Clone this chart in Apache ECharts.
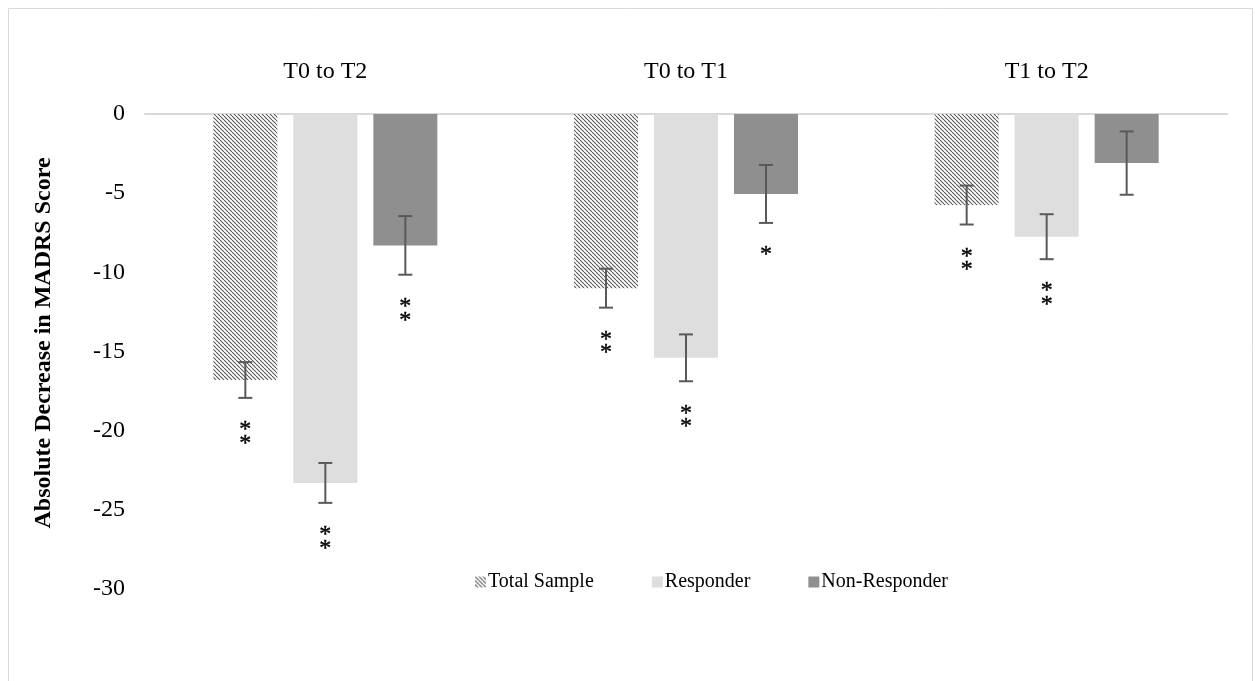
<!DOCTYPE html>
<html>
<head>
<meta charset="utf-8">
<script src="https://cdn.jsdelivr.net/npm/echarts@6/dist/echarts.min.js"></script>
<style>
  html, body { margin: 0; padding: 0; background: #ffffff; }
  #chart { width: 1255px; height: 681px; }
</style>
</head>
<body>
<div id="chart"></div>
<script>
// Time intervals compared
const categories = ['T0 to T2', 'T0 to T1', 'T1 to T2'];
const seriesNames = ['Total Sample', 'Responder', 'Non-Responder'];

// Mean change in MADRS score per interval
const totalSample = [-16.8, -11.0, -5.75];
const responder = [-23.3, -15.4, -7.75];
const nonResponder = [-8.3, -5.05, -3.1];

// Error bar half-widths
const totalSampleErr = [1.13, 1.23, 1.23];
const responderErr = [1.26, 1.48, 1.42];
const nonResponderErr = [1.85, 1.83, 2.0];

// Significance markers
const totalSampleSig = ['**', '**', '**'];
const responderSig = ['**', '**', '**'];
const nonResponderSig = ['**', '*', ''];

// Y axis ticks
const yMin = -30, yMax = 0, yStep = 5;
const yTitle = 'Absolute Decrease in MADRS Score';

const FONT = '"Liberation Serif", "Times New Roman", serif';
const BAR_W = 64, BAR_GAP = 16;

// Diagonal hatch fill for the total-sample bars
function makeHatch() {
  const c = document.createElement('canvas');
  c.width = 4; c.height = 4;
  const g = c.getContext('2d');
  g.fillStyle = '#ffffff';
  g.fillRect(0, 0, 4, 4);
  g.strokeStyle = '#5a5a5a';
  g.lineWidth = 1.1;
  [-4, 0, 4].forEach(function (d) {
    g.beginPath();
    g.moveTo(d, 0);
    g.lineTo(d + 4, 4);
    g.stroke();
  });
  return c;
}
const hatch = { image: makeHatch(), repeat: 'repeat' };
const fills = [hatch, '#dedede', '#8f8f8f'];

const values = [totalSample, responder, nonResponder];
const errs = [totalSampleErr, responderErr, nonResponderErr];
const sigs = [totalSampleSig, responderSig, nonResponderSig];

const barSeries = values.map(function (vals, i) {
  return {
    name: seriesNames[i],
    type: 'bar',
    data: vals,
    barWidth: BAR_W,
    barGap: (BAR_GAP / BAR_W * 100) + '%',
    itemStyle: { color: fills[i] },
    emphasis: { disabled: true },
    silent: true,
    z: 2
  };
});

const errSeries = values.map(function (vals, i) {
  const offset = (i - 1) * (BAR_W + BAR_GAP);
  return {
    type: 'custom',
    silent: true,
    z: 5,
    data: vals.map(function (v, k) { return [k, v, errs[i][k]]; }),
    renderItem: function (params, api) {
      const k = api.value(0), v = api.value(1), e = api.value(2);
      const sig = sigs[i][k];
      const x = api.coord([k, 0])[0] + offset;
      const yTop = api.coord([k, v + e])[1];
      const yBot = api.coord([k, v - e])[1];
      const stroke = { stroke: '#595959', lineWidth: 2 };
      const cap = 7;
      const children = [
        { type: 'line', shape: { x1: x, y1: yTop, x2: x, y2: yBot }, style: stroke },
        { type: 'line', shape: { x1: x - cap, y1: yTop, x2: x + cap, y2: yTop }, style: stroke },
        { type: 'line', shape: { x1: x - cap, y1: yBot, x2: x + cap, y2: yBot }, style: stroke }
      ];
      for (let s = 0; s < sig.length; s++) {
        children.push({
          type: 'text',
          style: {
            text: '*', x: x, y: yBot + 32 + s * 13.5,
            fill: '#000', stroke: '#000', lineWidth: 0.4,
            font: '24px ' + FONT,
            textAlign: 'center', textVerticalAlign: 'middle'
          }
        });
      }
      return { type: 'group', children: children };
    }
  };
});

const chart = echarts.init(document.getElementById('chart'), null, { renderer: 'canvas' });
chart.setOption({
  animation: false,
  backgroundColor: '#ffffff',
  graphic: [{
    type: 'rect',
    shape: { x: 8.5, y: 8.5, width: 1244, height: 700 },
    style: { fill: 'none', stroke: '#d9d9d9', lineWidth: 1 },
    silent: true
  }, {
    type: 'text',
    x: 44, y: 343,
    rotation: Math.PI / 2,
    style: {
      text: yTitle,
      font: 'bold 24px ' + FONT,
      fill: '#000',
      textAlign: 'center',
      textVerticalAlign: 'middle'
    },
    silent: true
  }],
  grid: { left: 145, right: 28, top: 114, bottom: 92 },
  legend: {
    data: seriesNames,
    left: 470,
    top: 567,
    icon: 'rect',
    itemWidth: 11,
    itemHeight: 11,
    itemGap: 58,
    selectedMode: false,
    textStyle: { fontFamily: FONT, fontSize: 20, color: '#000', padding: [0, 0, 0, -3] }
  },
  xAxis: {
    type: 'category',
    data: categories,
    position: 'top',
    axisLine: { show: true, lineStyle: { color: '#d9d9d9', width: 2 } },
    axisTick: { show: false },
    axisLabel: { margin: 30, fontFamily: FONT, fontSize: 24, color: '#000' }
  },
  yAxis: {
    type: 'value',
    min: yMin,
    max: yMax,
    interval: yStep,
    axisLine: { show: false },
    axisTick: { show: false },
    splitLine: { show: false },
    axisLabel: { margin: 20, fontFamily: FONT, fontSize: 24, color: '#000' }
  },
  series: barSeries.concat(errSeries)
});
</script>
</body>
</html>
